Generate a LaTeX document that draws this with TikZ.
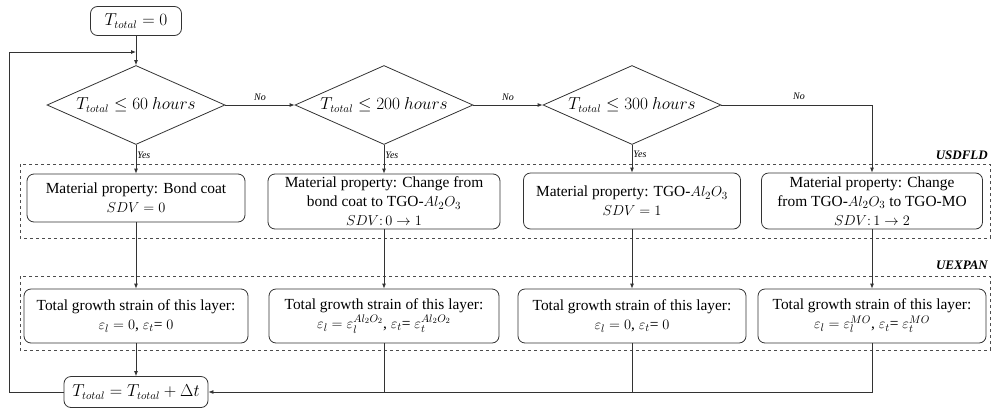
\documentclass[tikz,border=0pt]{standalone}
\usepackage{fontspec}
\setmainfont{Liberation Serif}
\usetikzlibrary{shapes.geometric,arrows.meta}
\begin{document}
\begin{tikzpicture}[x=1pt,y=-1pt,
 line/.style={draw=black!80, line width=0.8pt},
 arr/.style={line, -{Latex[length=5pt,width=4pt]}},
 rbox/.style={draw=black!80, line width=0.8pt, rounded corners=7pt, align=center, inner sep=0pt, font=\fontsize{15.4}{19}\selectfont},
 dec/.style={diamond, draw=black!80, line width=0.8pt, aspect=2.25, inner sep=0pt, minimum width=178pt, minimum height=79pt, font=\fontsize{16}{18}\selectfont},
 grp/.style={draw=black!70, dashed, line width=0.7pt},
 lab/.style={font=\fontsize{10}{12}\selectfont\itshape, inner sep=1pt},
 glab/.style={font=\fontsize{13}{15}\selectfont\bfseries\itshape, anchor=east, inner sep=0pt}]
\useasboundingbox (0,0) rectangle (992,410);
% groups
\draw[grp] (20,164) rectangle (990,238);
\draw[grp] (20,276) rectangle (990,350);
\node[glab] (gl1) at (988,155) {USDFLD};
\node[glab] (gl2) at (988,265) {UEXPAN};
% nodes
\node[rbox, minimum width=91pt, minimum height=29pt, font=\fontsize{16}{18}\selectfont] (start) at (136,21) {$T_{total}=0$};
\node[dec] (d1) at (136,105) {$T_{total}\le 60\ hours$};
\node[dec] (d2) at (384,105) {$T_{total}\le 200\ hours$};
\node[dec] (d3) at (632,105) {$T_{total}\le 300\ hours$};
\node[rbox, minimum width=218pt, minimum height=48pt] (b1) at (136,198) {Material property: Bond coat\\ $SDV=0$};
\node[rbox, minimum width=232pt, minimum height=55pt] (b2) at (384,201.5) {Material property: Change from\\ bond coat to TGO-$Al_2O_3$\\ $SDV\colon 0\rightarrow 1$};
\node[rbox, minimum width=217pt, minimum height=56pt] (b3) at (632,201) {Material property: TGO-$Al_2O_3$\\ $SDV=1$};
\node[rbox, minimum width=221pt, minimum height=56pt] (b4) at (872,201) {Material property: Change\\ from TGO-$Al_2O_3$ to TGO-MO\\ $SDV\colon 1\rightarrow 2$};
\node[rbox, minimum width=224pt, minimum height=54pt] (s1) at (136,316) {Total growth strain of this layer:\\ $\varepsilon_l=0$, $\varepsilon_t$= $0$};
\node[rbox, minimum width=230pt, minimum height=54pt] (s2) at (384,316) {Total growth strain of this layer:\\ $\varepsilon_l=\varepsilon_l^{Al_2O_2}$, $\varepsilon_t$= $\varepsilon_t^{Al_2O_2}$};
\node[rbox, minimum width=228pt, minimum height=54pt] (s3) at (632,316) {Total growth strain of this layer:\\ $\varepsilon_l=0$, $\varepsilon_t$= $0$};
\node[rbox, minimum width=228pt, minimum height=54pt] (s4) at (872,316) {Total growth strain of this layer:\\ $\varepsilon_l=\varepsilon_l^{MO}$, $\varepsilon_t$= $\varepsilon_t^{MO}$};
\node[rbox, minimum width=144pt, minimum height=31pt, font=\fontsize{16}{18}\selectfont] (fin) at (136,392) {$T_{total}=T_{total}+\Delta t$};
% connectors
\coordinate (lpt) at (9,52);
\coordinate (lj) at (136,52);
\draw[arr] (start) -- (d1);
\draw[arr] (fin.west) -| (lpt) -- (lj);
\draw[arr] (d1.east) -- node[lab, above=3pt] {No} (d2.west);
\draw[arr] (d2.east) -- node[lab, above=3pt] {No} (d3.west);
\draw[arr] (d3.east) -| (b4.north);
\node[lab] (no3) at (799,96) {No};
\draw[arr] (d1.south) -- node[lab, right, pos=0.35] {Yes} (b1.north);
\draw[arr] (d2.south) -- node[lab, right, pos=0.35] {Yes} (b2.north);
\draw[arr] (d3.south) -- node[lab, right, pos=0.35] {Yes} (b3.north);
\draw[arr] (b1.south) -- (s1.north);
\draw[arr] (b2.south) -- (s2.north);
\draw[arr] (b3.south) -- (s3.north);
\draw[arr] (b4.south) -- (s4.north);
\draw[arr] (s1.south) -- (fin.north);
\draw[arr] (s4.south) |- (fin.east);
\draw[line] (s2.south) -- (s2.south |- fin.east);
\draw[line] (s3.south) -- (s3.south |- fin.east);
\end{tikzpicture}
\end{document}
